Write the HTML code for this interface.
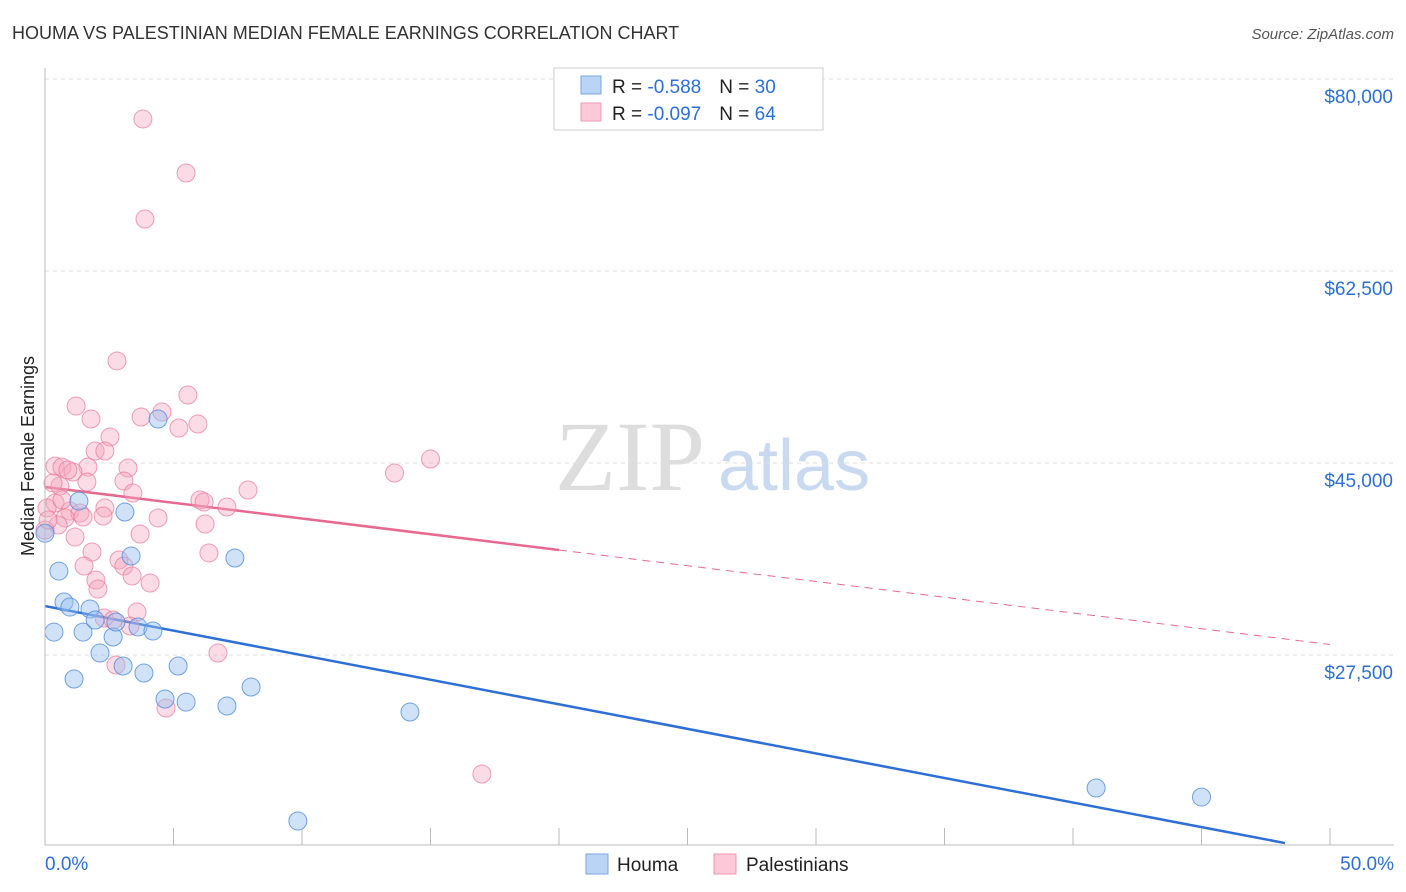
<!DOCTYPE html>
<html><head><meta charset="utf-8"><style>
body{margin:0;background:#fff;font-family:"Liberation Sans",sans-serif}
svg{display:block}
</style></head><body>
<svg id="c" width="1406" height="892">
<text x="12" y="39" font-size="18" fill="#333">HOUMA VS PALESTINIAN MEDIAN FEMALE EARNINGS CORRELATION CHART</text>
<text x="1394" y="39" font-size="15" fill="#555" font-style="italic" text-anchor="end">Source: ZipAtlas.com</text>
<text transform="translate(34,456) rotate(-90)" font-size="18" fill="#222" text-anchor="middle">Median Female Earnings</text>
<g>
<text x="555" y="490" font-size="100" fill="#ddd" font-family="Liberation Serif,serif">ZIP</text>
<text x="718" y="490" font-size="72" fill="#c9daf0">atlas</text>
</g>
<g id="grid"></g><g id="trend"></g><g id="pts"></g><g id="axes"></g>
<g>
<rect x="554" y="68" width="269" height="62" fill="#fff" stroke="#ccc"/>
<rect x="581" y="76" width="20" height="18" fill="#b9d4f5" stroke="#7aa6e0"/>
<rect x="581" y="103" width="20" height="18" fill="#fbc9d8" stroke="#ef97b2"/>
<text x="612" y="93" font-size="19" fill="#222">R = <tspan fill="#2d6fd6">-0.588</tspan><tspan dx="18">N = </tspan><tspan fill="#2d6fd6">30</tspan></text>
<text x="612" y="120" font-size="19" fill="#222">R = <tspan fill="#2d6fd6">-0.097</tspan><tspan dx="18">N = </tspan><tspan fill="#2d6fd6">64</tspan></text>
</g>
<g>
<rect x="586" y="854" width="22" height="20" fill="#b9d4f5" stroke="#7aa6e0"/>
<text x="617" y="871" font-size="19" fill="#222">Houma</text>
<rect x="714" y="854" width="22" height="20" fill="#fbc9d8" stroke="#ef97b2"/>
<text x="746" y="871" font-size="19" fill="#222">Palestinians</text>
</g>
</svg>
<script>
const yTicks=[80000,62500,45000,27500];
const yTickLabels=["$80,000","$62,500","$45,000","$27,500"];
const xTickVals=[0,5,10,15,20,25,30,35,40,45,50];
const xEndLabels=["0.0%","50.0%"];
const houmaX=[0,0.54,0.74,0.97,0.35,1.13,1.32,1.48,1.75,1.95,2.14,2.65,2.76,3.04,3.11,3.35,3.62,3.85,4.2,4.4,4.67,5.18,5.49,7.08,7.39,8.02,9.84,14.2,40.9,45.0];
const houmaY=[38600,35150,32330,31870,29590,25310,41530,29590,31690,30690,27680,29140,30510,26500,40530,36520,30050,25860,29690,49010,23490,26500,23210,22850,36340,24580,12370,22300,15380,14550];
const palX=[3.81,5.49,3.89,2.80,5.56,1.21,1.79,3.74,4.55,5.21,5.95,2.53,1.95,2.33,0.39,0.66,3.23,1.67,1.09,3.07,1.63,0.58,3.42,7.90,6.03,6.19,7.08,0.39,2.33,0.08,0.97,1.36,0.78,1.48,2.26,4.40,6.23,0.51,1.17,3.70,1.83,6.38,2.88,1.52,3.07,3.39,1.98,4.09,2.06,2.30,2.65,3.58,3.31,6.73,2.76,4.71,13.6,15.0,17.0,0,0.66,0.12,0.89,0.31];
const palY=[76350,71430,67240,54300,51200,50190,49010,49190,49650,48190,48550,47370,46090,46090,44720,44630,44540,44630,44180,43360,43270,42900,42260,42540,41630,41440,40990,41350,40900,40900,40620,40440,39990,40080,40170,39990,39440,39350,38250,38530,36890,36800,36160,35610,35610,34700,34330,34060,33510,30870,30690,31420,30140,27680,26590,22670,44090,45360,16650,38890,41630,39800,44360,43180];
const houmaTrend=[31960,-447.7];
const palTrend=[42810,-287];
const X=v=>45+v*25.7;
const Y=v=>79+(80000-v)*192/17500;
const NS="http://www.w3.org/2000/svg";
function mk(t,p,a){const e=document.createElementNS(NS,t);for(const k in a)e.setAttribute(k,a[k]);p.appendChild(e);return e;}
const grid=document.getElementById('grid'),axes=document.getElementById('axes'),pts=document.getElementById('pts'),tr=document.getElementById('trend');
yTicks.forEach((v,i)=>{
 const l=mk('line',grid,{x1:45,x2:1394,y1:Y(v),y2:Y(v),stroke:'#ddd','stroke-dasharray':'4,4'});
 
 
 const t=mk('text',axes,{x:1393,y:Y(v)+24,'font-size':19,fill:'#2d6fd6','text-anchor':'end'});
 t.textContent=yTickLabels[i];
 
 
});
const ya=mk('line',axes,{x1:45,x2:45,y1:68,y2:845,stroke:'#bbb'});


const xa=mk('line',axes,{x1:45,x2:1394,y1:845,y2:845,stroke:'#bbb'});


xTickVals.forEach(v=>{
 const t=mk('line',axes,{x1:X(v),x2:X(v),y1:828,y2:845,stroke:'#bbb'});
 
 
});
[[0,'start',45],[50,'end',1394]].forEach((d,i)=>{
 const t=mk('text',axes,{x:d[2],y:870,'font-size':19,fill:'#2d6fd6','text-anchor':d[1]});
 t.textContent=xEndLabels[i];
 
 
});
const hEnd=Math.min(50,(10360-houmaTrend[0])/houmaTrend[1]);
const hl=mk('line',tr,{x1:X(0),y1:Y(houmaTrend[0]),x2:X(hEnd),y2:Y(houmaTrend[0]+houmaTrend[1]*hEnd),stroke:'#2d6fd6','stroke-width':2.5});


const pl=mk('line',tr,{x1:X(0),y1:Y(palTrend[0]),x2:X(20),y2:Y(palTrend[0]+palTrend[1]*20),stroke:'#e8698f','stroke-width':2.5});


const pd=mk('line',tr,{x1:X(20),y1:Y(palTrend[0]+palTrend[1]*20),x2:X(50),y2:Y(palTrend[0]+palTrend[1]*50),stroke:'#e8698f','stroke-width':1,'stroke-dasharray':'8,6'});


palX.forEach((x,i)=>{
 const c=mk('circle',pts,{cx:X(x),cy:Y(palY[i]),r:9,fill:'rgba(246,164,190,0.4)',stroke:'rgba(232,120,155,0.7)','stroke-width':1});
 
 
});
houmaX.forEach((x,i)=>{
 const c=mk('circle',pts,{cx:X(x),cy:Y(houmaY[i]),r:9,fill:'rgba(150,190,240,0.45)',stroke:'rgba(80,140,220,0.8)','stroke-width':1});
 
 
});
</script>
</body></html>
